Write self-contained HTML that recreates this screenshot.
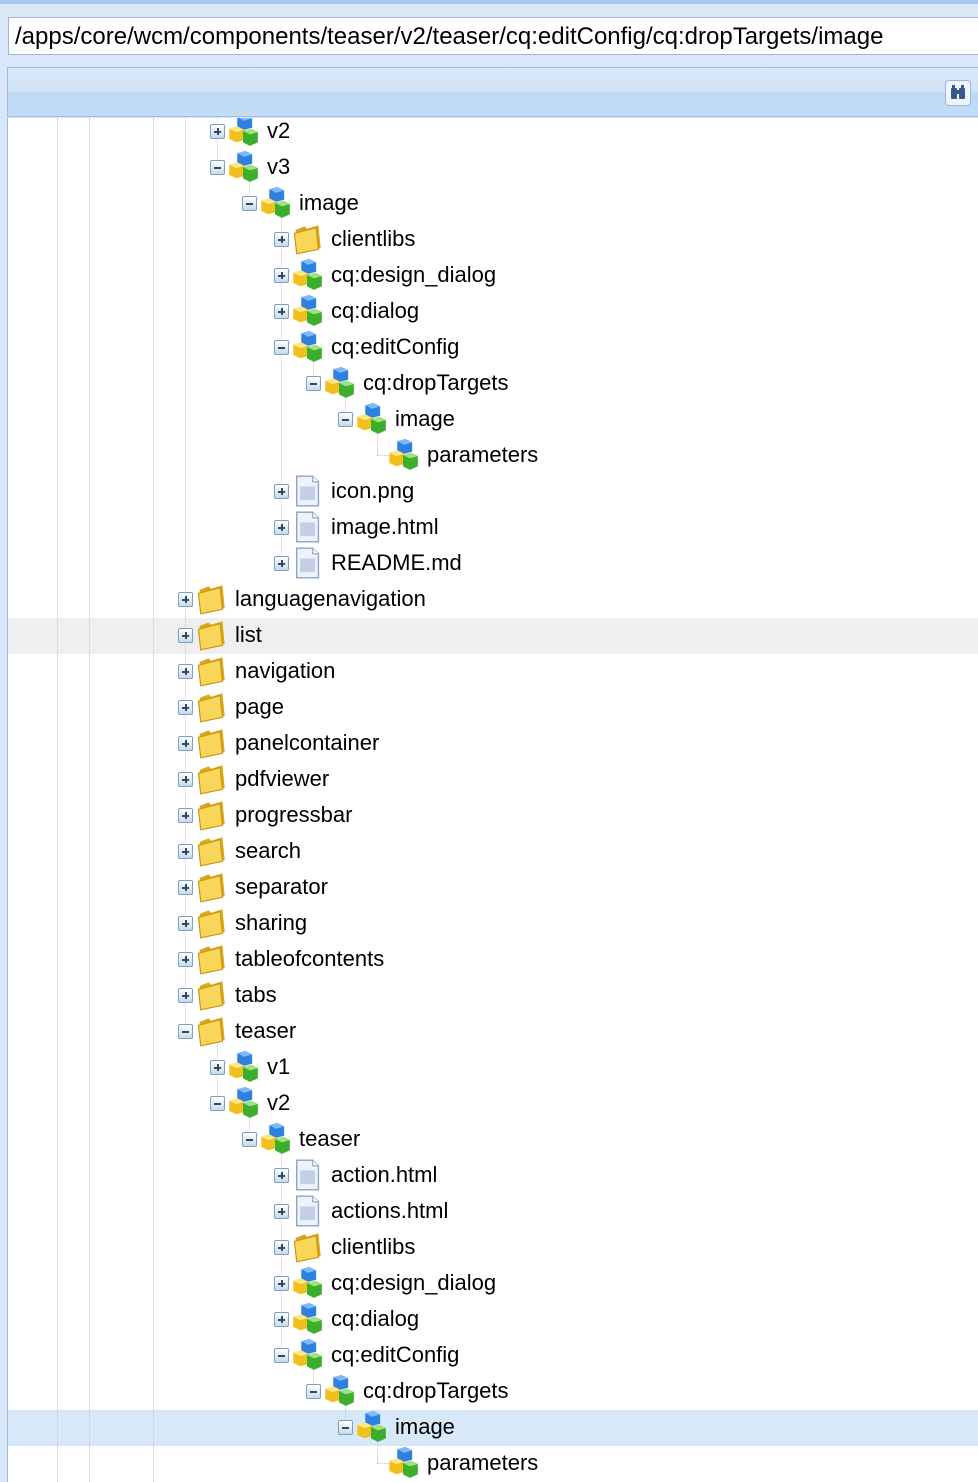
<!DOCTYPE html>
<html><head><meta charset="utf-8"><style>
body{margin:0;width:978px;height:1482px;overflow:hidden;background:#d9e7f8;font-family:"Liberation Sans",Arial,sans-serif;position:relative}
.top{position:absolute;left:0;top:0;width:978px;height:4px;background:#a9c8ee}
.inp{position:absolute;left:8px;top:17px;width:980px;height:38px;background:#fff;border:1px solid #a3b5d3;font-size:24px;line-height:38px;padding-left:6px;box-sizing:border-box;color:#000;white-space:nowrap}
.ph{position:absolute;left:7px;top:67px;width:980px;height:50px;border:1px solid #99bbe8;border-right:none;box-sizing:border-box;background:linear-gradient(#dbe9f9,#cfe2f7 50%,#bdd7f4 52%,#c4dcf6)}
.bin{position:absolute;left:945px;top:80px;width:26px;height:26px;border:1px solid #9ab8df;border-radius:4px;background:#eef5fd;box-sizing:border-box}
.tree{position:absolute;left:7px;top:118px;width:971px;height:1364px;background:#fff;border-left:1px solid #99bbe8;overflow:hidden}
.tree>*{position:absolute}
.v{width:0;border-left:1px dotted #d9b9c4}
.h{height:0;border-top:1px dotted #d9b9c4}
.hl{left:0;width:971px;height:36px}
.r{height:36px;display:flex;align-items:center;font-size:22px;color:#000;white-space:nowrap}
.t{width:15px;height:15px;margin-left:-1px;border:1px solid #7f9ec2;border-radius:2px;background:linear-gradient(#fff,#c9d9ea);box-sizing:border-box;position:relative;flex:none}
.t:before{content:"";position:absolute;left:3px;top:6px;width:7px;height:2px;background:#2a4a6e}
.t.p:after{content:"";position:absolute;left:5.5px;top:3px;width:2px;height:7px;background:#2a4a6e}
.n{width:14px;flex:none}
.r svg{width:32px;height:32px;margin-left:2px;margin-right:8px;flex:none}
</style></head><body>
<svg width="0" height="0" style="position:absolute">
<defs>
<symbol id="c" viewBox="0 0 28 28">
<path d="M9 2 L16 0 L22 3 L22 11 L15 13 L9 10Z" fill="#2d7fe0"/><path d="M9 2 L16 0 L22 3 L15 5Z" fill="#7fb8ff"/>
<path d="M2 12 L9 10 L15 13 L15 22 L8 24 L2 21Z" fill="#f0c020"/><path d="M2 12 L9 10 L15 13 L8 15Z" fill="#ffe680"/>
<path d="M14 14 L21 12 L27 15 L27 24 L20 27 L14 24Z" fill="#3cae2c"/><path d="M14 14 L21 12 L27 15 L20 17Z" fill="#9de37f"/>
</symbol>
<symbol id="f" viewBox="0 0 28 28">
<path d="M4 6 L12 3 L14 5 L24 2 L26 22 L6 27 Z" fill="#d9a91a"/>
<path d="M3 9 L22 4 L24 23 L5 27 Z" fill="#f7d65a" stroke="#c99412" stroke-width="1"/>
</symbol>
<symbol id="d" viewBox="0 0 28 28">
<path d="M5 1 L19 1 L24 6 L24 27 L5 27Z" fill="#eef2fa" stroke="#8ea3c4" stroke-width="1.2"/>
<rect x="8" y="10" width="13" height="12" fill="#c3cfe6"/>
<path d="M19 1 L19 6 L24 6" fill="#fff" stroke="#8ea3c4"/>
</symbol>
</defs></svg>
<div class="top"></div>
<div class="inp">/apps/core/wcm/components/teaser/v2/teaser/cq:editConfig/cq:dropTargets/image</div>
<div class="ph"></div>
<div class="bin"><svg width="24" height="24" viewBox="0 0 24 24"><rect x="5" y="7" width="6" height="11" rx="1" fill="#36598a"/><rect x="13" y="7" width="6" height="11" rx="1" fill="#36598a"/><rect x="10" y="9" width="4" height="4" fill="#36598a"/><rect x="6" y="4" width="3" height="4" fill="#36598a"/><rect x="15" y="4" width="3" height="4" fill="#36598a"/></svg></div>
<div class="tree">
<div class="hl" style="top:500px;background:#efefef"></div>
<div class="hl" style="top:1292px;background:#d7e8f8"></div>
<div class="v" style="left:49px;top:0;height:1364px"></div>
<div class="v" style="left:81px;top:0;height:1364px"></div>
<div class="v" style="left:145px;top:0;height:1364px"></div>
<div class="v" style="left:177px;top:0;height:913px"></div>
<div class="v" style="left:209px;top:0;height:49px"></div>
<div class="v" style="left:209px;top:913px;height:72px"></div>
<div class="v" style="left:241px;top:49px;height:36px"></div>
<div class="v" style="left:241px;top:985px;height:36px"></div>
<div class="v" style="left:273px;top:85px;height:360px"></div>
<div class="v" style="left:273px;top:1021px;height:216px"></div>
<div class="v" style="left:305px;top:229px;height:36px"></div>
<div class="v" style="left:305px;top:1237px;height:36px"></div>
<div class="v" style="left:337px;top:265px;height:36px"></div>
<div class="v" style="left:337px;top:1273px;height:36px"></div>
<div class="v" style="left:369px;top:301px;height:36px"></div>
<div class="h" style="left:369px;top:337px;width:14px"></div>
<div class="v" style="left:369px;top:1309px;height:36px"></div>
<div class="h" style="left:369px;top:1345px;width:14px"></div>

<div class="r" style="top:-5px;left:203px"><i class="t p"></i><svg><use href="#c"/></svg>v2</div>
<div class="r" style="top:31px;left:203px"><i class="t"></i><svg><use href="#c"/></svg>v3</div>
<div class="r" style="top:67px;left:235px"><i class="t"></i><svg><use href="#c"/></svg>image</div>
<div class="r" style="top:103px;left:267px"><i class="t p"></i><svg><use href="#f"/></svg>clientlibs</div>
<div class="r" style="top:139px;left:267px"><i class="t p"></i><svg><use href="#c"/></svg>cq:design_dialog</div>
<div class="r" style="top:175px;left:267px"><i class="t p"></i><svg><use href="#c"/></svg>cq:dialog</div>
<div class="r" style="top:211px;left:267px"><i class="t"></i><svg><use href="#c"/></svg>cq:editConfig</div>
<div class="r" style="top:247px;left:299px"><i class="t"></i><svg><use href="#c"/></svg>cq:dropTargets</div>
<div class="r" style="top:283px;left:331px"><i class="t"></i><svg><use href="#c"/></svg>image</div>
<div class="r" style="top:319px;left:363px"><i class="n"></i><svg><use href="#c"/></svg>parameters</div>
<div class="r" style="top:355px;left:267px"><i class="t p"></i><svg><use href="#d"/></svg>icon.png</div>
<div class="r" style="top:391px;left:267px"><i class="t p"></i><svg><use href="#d"/></svg>image.html</div>
<div class="r" style="top:427px;left:267px"><i class="t p"></i><svg><use href="#d"/></svg>README.md</div>
<div class="r" style="top:463px;left:171px"><i class="t p"></i><svg><use href="#f"/></svg>languagenavigation</div>
<div class="r" style="top:499px;left:171px"><i class="t p"></i><svg><use href="#f"/></svg>list</div>
<div class="r" style="top:535px;left:171px"><i class="t p"></i><svg><use href="#f"/></svg>navigation</div>
<div class="r" style="top:571px;left:171px"><i class="t p"></i><svg><use href="#f"/></svg>page</div>
<div class="r" style="top:607px;left:171px"><i class="t p"></i><svg><use href="#f"/></svg>panelcontainer</div>
<div class="r" style="top:643px;left:171px"><i class="t p"></i><svg><use href="#f"/></svg>pdfviewer</div>
<div class="r" style="top:679px;left:171px"><i class="t p"></i><svg><use href="#f"/></svg>progressbar</div>
<div class="r" style="top:715px;left:171px"><i class="t p"></i><svg><use href="#f"/></svg>search</div>
<div class="r" style="top:751px;left:171px"><i class="t p"></i><svg><use href="#f"/></svg>separator</div>
<div class="r" style="top:787px;left:171px"><i class="t p"></i><svg><use href="#f"/></svg>sharing</div>
<div class="r" style="top:823px;left:171px"><i class="t p"></i><svg><use href="#f"/></svg>tableofcontents</div>
<div class="r" style="top:859px;left:171px"><i class="t p"></i><svg><use href="#f"/></svg>tabs</div>
<div class="r" style="top:895px;left:171px"><i class="t"></i><svg><use href="#f"/></svg>teaser</div>
<div class="r" style="top:931px;left:203px"><i class="t p"></i><svg><use href="#c"/></svg>v1</div>
<div class="r" style="top:967px;left:203px"><i class="t"></i><svg><use href="#c"/></svg>v2</div>
<div class="r" style="top:1003px;left:235px"><i class="t"></i><svg><use href="#c"/></svg>teaser</div>
<div class="r" style="top:1039px;left:267px"><i class="t p"></i><svg><use href="#d"/></svg>action.html</div>
<div class="r" style="top:1075px;left:267px"><i class="t p"></i><svg><use href="#d"/></svg>actions.html</div>
<div class="r" style="top:1111px;left:267px"><i class="t p"></i><svg><use href="#f"/></svg>clientlibs</div>
<div class="r" style="top:1147px;left:267px"><i class="t p"></i><svg><use href="#c"/></svg>cq:design_dialog</div>
<div class="r" style="top:1183px;left:267px"><i class="t p"></i><svg><use href="#c"/></svg>cq:dialog</div>
<div class="r" style="top:1219px;left:267px"><i class="t"></i><svg><use href="#c"/></svg>cq:editConfig</div>
<div class="r" style="top:1255px;left:299px"><i class="t"></i><svg><use href="#c"/></svg>cq:dropTargets</div>
<div class="r" style="top:1291px;left:331px"><i class="t"></i><svg><use href="#c"/></svg>image</div>
<div class="r" style="top:1327px;left:363px"><i class="n"></i><svg><use href="#c"/></svg>parameters</div>
</div>
</body></html>
